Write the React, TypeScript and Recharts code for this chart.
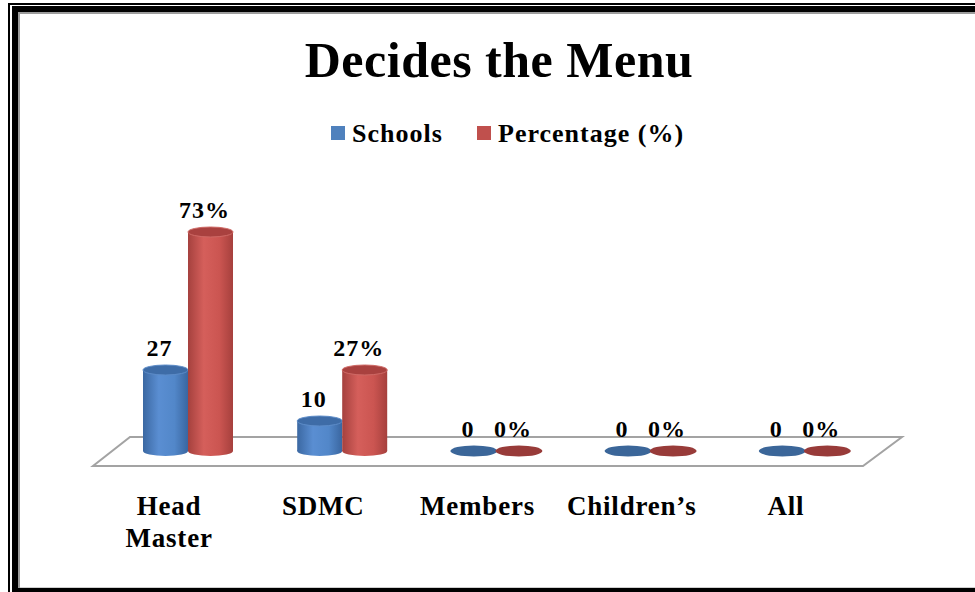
import React from 'react';
import * as Recharts from 'recharts';
import { BarChart, Bar, XAxis, YAxis, LabelList, Customized } from 'recharts';

const categories = ['Head Master', 'SDMC', 'Members', 'Children\u2019s', 'All'];
const schools = [27, 10, 0, 0, 0];
const percentage = [73, 27, 0, 0, 0];
const seriesNames = ['Schools', 'Percentage (%)'];
const chartTitle = 'Decides the Menu';

const data = categories.map((c, i) => ({ name: c, schools: schools[i], percentage: percentage[i] }));

const FONT = "'Liberation Serif', 'Times New Roman', serif";

const BLUE = {
  stops: ['#3b68a2', '#5a8ed2', '#5287c9', '#3a66a0'],
  top: '#3e6ca7',
  rim: '#5d8cc8',
  flat: '#3b6699',
  legend: '#4f81bd',
};
const RED = {
  stops: ['#a5413e', '#d55f5b', '#cb5551', '#a6403d'],
  top: '#a9413f',
  rim: '#cf6a66',
  flat: '#983b39',
  legend: '#c0504d',
};

function makeCylinder(pal: any, key: string) {
  return (props: any) => {
    const { x, y, width, height, index } = props;
    const cx = x + width / 2;
    const rx = width / 2;
    const ry = 5;
    if (!height || height < 1) {
      return <ellipse cx={cx} cy={y} rx={rx + 1} ry={5.5} fill={pal.flat} />;
    }
    const gid = `grad-${key}-${index}`;
    const bottom = y + height;
    return (
      <g>
        <defs>
          <linearGradient id={gid} x1="0" x2="1" y1="0" y2="0">
            <stop offset="0%" stopColor={pal.stops[0]} />
            <stop offset="35%" stopColor={pal.stops[1]} />
            <stop offset="70%" stopColor={pal.stops[2]} />
            <stop offset="100%" stopColor={pal.stops[3]} />
          </linearGradient>
        </defs>
        <ellipse cx={cx} cy={bottom} rx={rx} ry={ry} fill={`url(#${gid})`} />
        <rect x={x} y={y} width={width} height={height} fill={`url(#${gid})`} />
        <ellipse cx={cx} cy={y} rx={rx} ry={ry} fill={pal.top} stroke={pal.rim} strokeWidth={1} />
      </g>
    );
  };
}

const makeLabel = (suffix: string) => (props: any) => {
  const { x, y, width, value } = props;
  return (
    <text
      x={x + width / 2 - 6}
      y={y - 14}
      textAnchor="middle"
      fontFamily={FONT}
      fontWeight="bold"
      fontSize={24}
      letterSpacing={1}
      fill="#000"
    >
      {`${value}${suffix}`}
    </text>
  );
};

function CategoryTick(props: any) {
  const { x, y, payload } = props;
  const words = payload.value === 'Head Master' ? ['Head', 'Master'] : [payload.value];
  const tx = x - 19;
  return (
    <text textAnchor="middle" fontFamily={FONT} fontWeight="bold" fontSize={27} letterSpacing={0.8} fill="#000">
      {words.map((w: string, i: number) => (
        <tspan key={i} x={tx} y={y + 64 + i * 32}>
          {w}
        </tspan>
      ))}
    </text>
  );
}

function Floor() {
  const R: any = Recharts;
  let left: number, right: number, bottom: number;
  if (R.usePlotArea) {
    const area = R.usePlotArea();
    if (!area) return null;
    left = area.x;
    right = area.x + area.width;
    bottom = area.y + area.height;
  } else {
    const off = R.useOffset();
    const w = R.useChartWidth();
    const h = R.useChartHeight();
    if (!off || !w || !h) return null;
    left = off.left;
    right = w - off.right;
    bottom = h - off.bottom;
  }
  const pts = `${left + 19},${bottom - 14} ${right + 20},${bottom - 14} ${right - 19},${bottom + 15} ${left - 18},${bottom + 15}`;
  return <polygon points={pts} fill="#fff" stroke="#a3a3a3" strokeWidth={2} />;
}

function Overlay() {
  const legendX = [331, 477];
  const colors = [BLUE.legend, RED.legend];
  return (
    <g>
      <text
        x={499}
        y={77}
        textAnchor="middle"
        fontFamily={FONT}
        fontWeight="bold"
        fontSize={50}
        letterSpacing={0.5}
        fill="#000"
      >
        {chartTitle}
      </text>
      {seriesNames.map((n, i) => (
        <g key={n}>
          <rect x={legendX[i]} y={126} width={14} height={14} fill={colors[i]} />
          <text
            x={legendX[i] + 21}
            y={142}
            fontFamily={FONT}
            fontWeight="bold"
            fontSize={26}
            letterSpacing={1}
            fill="#000"
          >
            {n}
          </text>
        </g>
      ))}
    </g>
  );
}

function Frame() {
  const blk = '#000';
  const gray = '#9c9c9c';
  const s = (l: number, t: number, w: number, h: number, c: string): React.CSSProperties => ({
    position: 'absolute',
    left: l,
    top: t,
    width: w,
    height: h,
    background: c,
  });
  return (
    <>
      <div style={s(8, 3, 2, 589, blk)} />
      <div style={s(8, 3, 967, 2, blk)} />
      <div style={s(12, 6, 6, 586, blk)} />
      <div style={s(12, 6, 963, 6, blk)} />
      <div style={s(12, 588, 963, 4, blk)} />
      <div style={s(18, 12, 2, 576, gray)} />
      <div style={s(18, 12, 957, 2, gray)} />
      <div style={s(20, 587, 955, 1, '#cfcfcf')} />
    </>
  );
}

export default function App() {
  return (
    <div
      style={{
        position: 'absolute',
        left: 0,
        top: 0,
        width: 975,
        height: 592,
        overflow: 'hidden',
        background: '#fff',
      }}
    >
      <div style={{ position: 'absolute', left: 0, top: 0 }}>
        <BarChart
          width={975}
          height={592}
          data={data}
          margin={{ top: 211, right: 93, bottom: 111, left: 111 }}
          barSize={45}
          barGap={0}
        >
          <Customized component={<Floor />} />
          <Customized component={<Overlay />} />
          <XAxis
            dataKey="name"
            axisLine={false}
            tickLine={false}
            tickSize={0}
            tickMargin={0}
            height={30}
            interval={0}
            tick={<CategoryTick />}
          />
          <YAxis hide domain={[0, 80]} />
          <Bar dataKey="schools" name={seriesNames[0]} fill={BLUE.legend} isAnimationActive={false} shape={makeCylinder(BLUE, 's')}>
            <LabelList dataKey="schools" content={makeLabel('')} />
          </Bar>
          <Bar dataKey="percentage" name={seriesNames[1]} fill={RED.legend} isAnimationActive={false} shape={makeCylinder(RED, 'p')}>
            <LabelList dataKey="percentage" content={makeLabel('%')} />
          </Bar>
        </BarChart>
      </div>
      <Frame />
    </div>
  );
}
